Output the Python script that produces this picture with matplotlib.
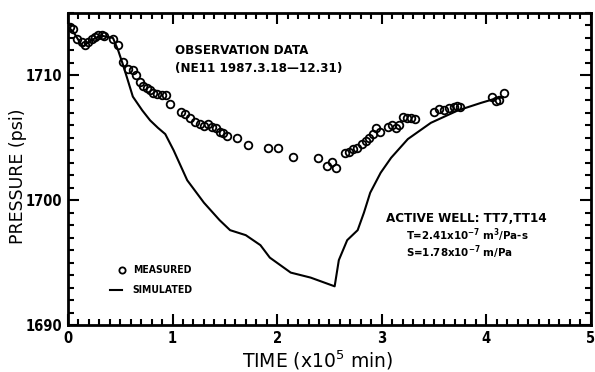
import matplotlib
matplotlib.use("Agg")
import matplotlib.pyplot as plt
from matplotlib.ticker import MultipleLocator

# measured pressure (x10^5 min, psi)
t_meas = [0.019, 0.048, 0.086, 0.134, 0.163, 0.192, 0.230, 0.259, 0.287, 0.326, 0.345,
          0.431, 0.479, 0.527, 0.575, 0.623, 0.651, 0.690, 0.718, 0.757, 0.785, 0.814,
          0.852, 0.900, 0.939, 0.977, 1.082, 1.121, 1.169, 1.216, 1.264, 1.303, 1.341,
          1.379, 1.418, 1.456, 1.485, 1.523, 1.619, 1.724, 1.916, 2.011, 2.155, 2.395,
          2.481, 2.529, 2.567, 2.653, 2.692, 2.730, 2.768, 2.816, 2.854, 2.883, 2.921,
          2.950, 2.979, 3.056, 3.094, 3.132, 3.161, 3.199, 3.238, 3.276, 3.314, 3.496,
          3.544, 3.592, 3.640, 3.688, 3.716, 3.745, 4.052, 4.090, 4.119, 4.167]
p_meas = [1713.84, 1713.68, 1712.88, 1712.64, 1712.4, 1712.64, 1712.88, 1713.04, 1713.2,
          1713.2, 1713.12, 1712.88, 1712.4, 1711.04, 1710.48, 1710.4, 1710.0, 1709.44,
          1709.12, 1708.96, 1708.8, 1708.56, 1708.48, 1708.4, 1708.4, 1707.68, 1707.04,
          1706.88, 1706.56, 1706.24, 1706.08, 1705.92, 1706.08, 1705.84, 1705.76, 1705.44,
          1705.36, 1705.12, 1704.96, 1704.4, 1704.16, 1704.16, 1703.44, 1703.36, 1702.72,
          1703.04, 1702.56, 1703.76, 1703.84, 1704.08, 1704.16, 1704.48, 1704.72, 1704.96,
          1705.28, 1705.76, 1705.44, 1705.84, 1706.0, 1705.76, 1706.0, 1706.64, 1706.56,
          1706.56, 1706.48, 1707.04, 1707.28, 1707.2, 1707.36, 1707.44, 1707.52, 1707.44,
          1708.24, 1707.92, 1708.0, 1708.56]

# simulated pressure
t_sim = [0.0, 0.05, 0.14, 0.22, 0.31, 0.43, 0.48, 0.52, 0.565, 0.62, 0.71, 0.785, 0.86,
         0.93, 1.01, 1.14, 1.3, 1.45, 1.55, 1.7, 1.84, 1.93, 2.13, 2.32, 2.55, 2.59, 2.67,
         2.77, 2.83, 2.89, 2.99, 3.09, 3.25, 3.47, 3.73, 3.95, 4.07, 4.16]
p_sim = [1713.9, 1713.5, 1712.3, 1712.8, 1713.2, 1713.0, 1712.0, 1711.0, 1709.8, 1708.3,
         1707.2, 1706.4, 1705.8, 1705.3, 1704.0, 1701.6, 1699.8, 1698.4, 1697.6, 1697.2,
         1696.4, 1695.4, 1694.2, 1693.8, 1693.1, 1695.2, 1696.8, 1697.6, 1699.0, 1700.6,
         1702.2, 1703.4, 1704.9, 1706.2, 1707.2, 1707.8, 1708.1, 1708.25]

plt.rcParams['font.family'] = ['DejaVu Sans']
plt.rcParams['font.stretch'] = 'condensed'
plt.rcParams['font.weight'] = 'bold'
plt.rcParams['mathtext.default'] = 'regular'

fig = plt.figure(figsize=(5.95, 3.72), dpi=100)
ax = fig.add_axes([0.1143, 0.1263, 0.8787, 0.8387])

ax.plot(t_sim, p_sim, color='black', lw=1.5)
ax.plot(t_meas, p_meas, 'o', mfc='none', mec='black', ms=5.5, mew=1.3)

ax.set_xlim(0, 5)
ax.set_ylim(1690, 1715)
ax.xaxis.set_major_locator(MultipleLocator(1))
ax.xaxis.set_minor_locator(MultipleLocator(0.1))
ax.yaxis.set_major_locator(MultipleLocator(10))
ax.yaxis.set_minor_locator(MultipleLocator(1))
ax.tick_params(which='both', direction='in', top=True, right=True, width=1.5,
               labelsize=10.5, pad=4)
ax.tick_params(which='major', length=8)
ax.tick_params(which='minor', length=4)
for s in ax.spines.values():
    s.set_linewidth(2)

ax.set_xlabel('TIME (x10$^5$ min)', fontsize=13.5, fontweight='normal',
              fontstretch='normal')
ax.set_ylabel('PRESSURE (psi)', fontsize=12.5, fontweight='normal',
              fontstretch='normal')
ax.xaxis.set_label_coords(0.478, -0.075)
ax.yaxis.set_label_coords(-0.079, 0.478)

ax.text(1.025, 1712.0, 'OBSERVATION DATA', fontsize=9.5, va='center')
ax.text(1.025, 1710.55, '(NE11 1987.3.18\u201412.31)', fontsize=9.5, va='center')

ax.text(3.04, 1698.55, 'ACTIVE WELL: TT7,TT14', fontsize=9.5, va='center')
ax.text(3.23, 1697.2, 'T=2.41x10$^{-7}$ m$^3$/Pa-s', fontsize=8.2, va='center')
ax.text(3.23, 1695.8, 'S=1.78x10$^{-7}$ m/Pa', fontsize=8.2, va='center')

# legend drawn by hand like the original
ax.plot([0.52], [1694.4], 'o', mfc='none', mec='black', ms=4.5, mew=1.3)
ax.text(0.62, 1694.4, 'MEASURED', fontsize=7.5, va='center')
ax.plot([0.40, 0.52], [1692.8, 1692.8], color='black', lw=1.5)
ax.text(0.62, 1692.8, 'SIMULATED', fontsize=7.5, va='center')

fig.savefig('out.png', dpi=100)
